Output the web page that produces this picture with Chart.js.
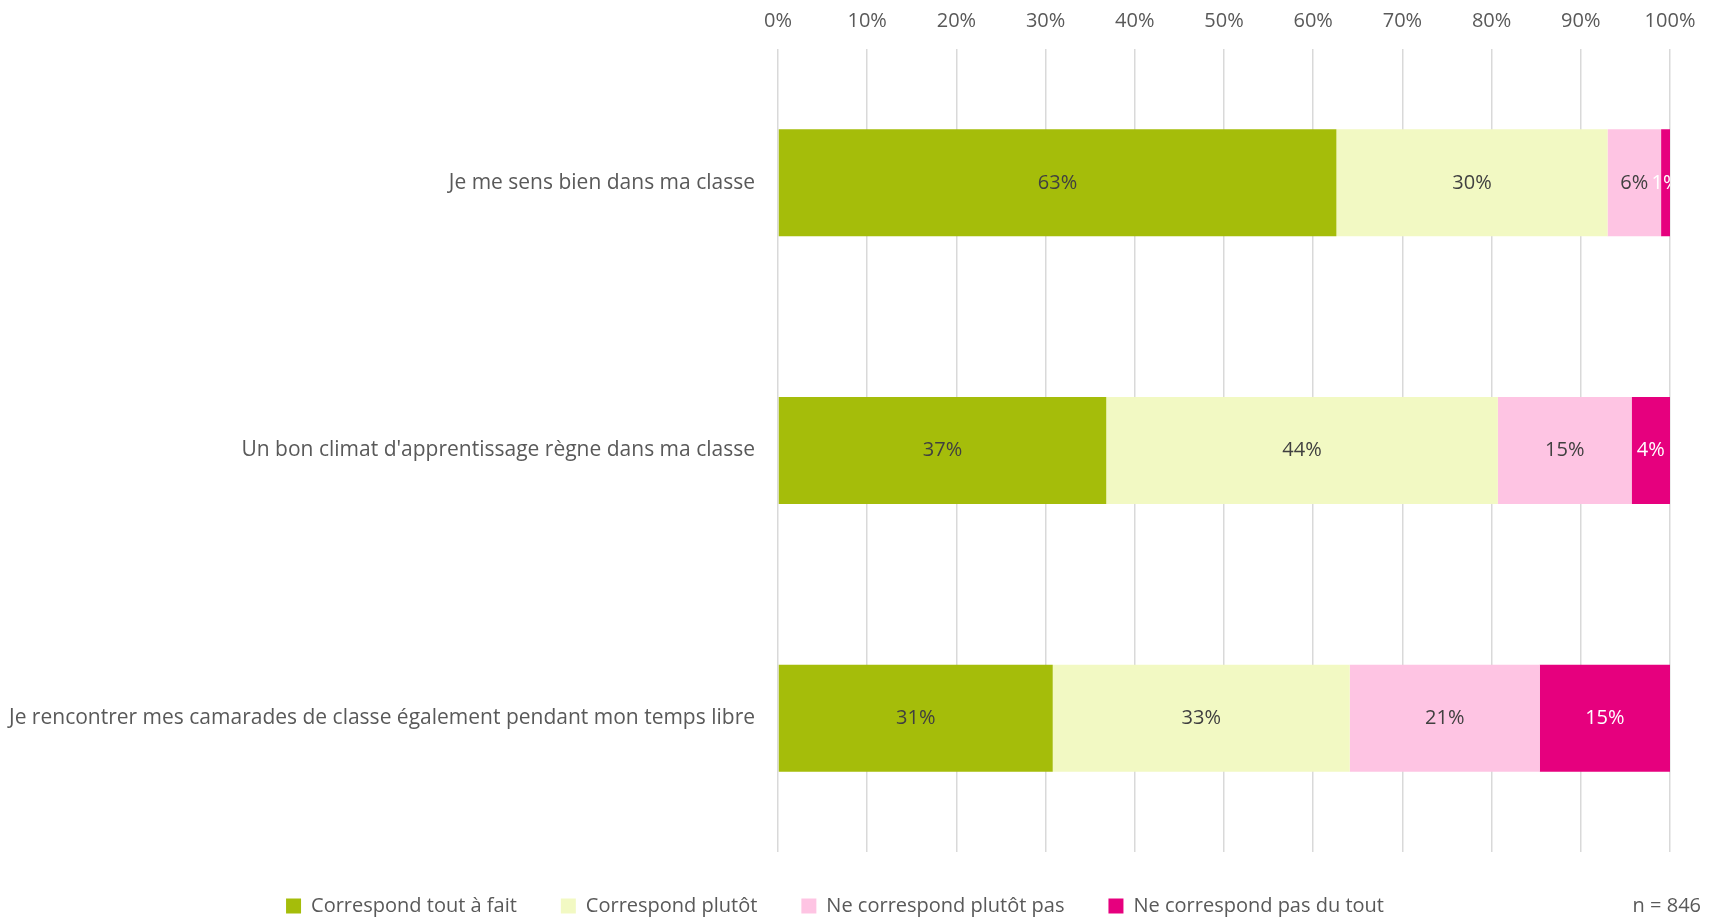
<!DOCTYPE html>
<html>
<head>
<meta charset="utf-8">
<script src="https://cdn.jsdelivr.net/npm/chart.js@4.4.1/dist/chart.umd.min.js"></script>
<style>
  html, body { margin: 0; padding: 0; background: #fff; overflow: hidden; }
</style>
</head>
<body>
<canvas id="barChart" width="1717" height="918"></canvas>
<script>
// categories and series (percent of respondents)
const categories = [
    'Je me sens bien dans ma classe',
    "Un bon climat d'apprentissage règne dans ma classe",
    'Je rencontrer mes camarades de classe également pendant mon temps libre'
];
const seriesNames = ['Correspond tout à fait', 'Correspond plutôt', 'Ne correspond plutôt pas', 'Ne correspond pas du tout'];
const toutAFait = [62.6, 36.8, 30.8];
const plutot = [30.4, 43.9, 33.3];
const plutotPas = [6.0, 15.0, 21.3];
const pasDuTout = [1.0, 4.3, 14.6];
const xTicks = [0, 10, 20, 30, 40, 50, 60, 70, 80, 90, 100];
const sampleNote = 'n = 846';

const colors = ['#A5BD0A', '#F2F9C3', '#FEC4E3', '#E6007E'];
const labelColors = ['#404040', '#404040', '#404040', '#FFFFFF'];
const fontFamily = "'Open Sans', 'Liberation Sans', sans-serif";

// draw the percentage in the middle of every segment
const segmentLabels = {
    id: 'segmentLabels',
    afterDatasetsDraw(chart) {
        const ctx = chart.ctx;
        const area = chart.chartArea;
        ctx.save();
        ctx.beginPath();
        ctx.rect(area.left, area.top, area.right - area.left, area.bottom - area.top);
        ctx.clip();
        ctx.font = '20px ' + fontFamily;
        ctx.textAlign = 'center';
        ctx.textBaseline = 'middle';
        chart.data.datasets.forEach((ds, i) => {
            const meta = chart.getDatasetMeta(i);
            meta.data.forEach((bar, j) => {
                const cx = (bar.x + bar.base) / 2;
                ctx.fillStyle = labelColors[i];
                ctx.fillText(Math.round(ds.data[j]) + '%', cx, bar.y);
            });
        });
        ctx.restore();
    }
};

// legend box is a bit too tall by default, trim it
const legendHeight = {
    id: 'legendHeight',
    beforeLayout(chart) {
        const legend = chart.legend;
        if (legend && !legend._trimmed) {
            const fit = legend.fit;
            legend.fit = function () { fit.call(this); this.height = 66; };
            legend._trimmed = true;
        }
    }
};

// sample size at the bottom right
const sampleSize = {
    id: 'sampleSize',
    afterDraw(chart) {
        const ctx = chart.ctx;
        const legend = chart.legend;
        ctx.save();
        ctx.font = '20px ' + fontFamily;
        ctx.fillStyle = '#595959';
        ctx.textAlign = 'right';
        ctx.textBaseline = 'middle';
        const box = legend.legendHitBoxes[0];
        const y = box ? box.top + box.height / 2 : chart.height - 15;
        ctx.fillText(sampleNote, chart.width - 16, y);
        ctx.restore();
    }
};

const ctx = document.getElementById('barChart').getContext('2d');
const barChart = new Chart(ctx, {
    type: 'bar',
    data: {
        labels: categories,
        datasets: [toutAFait, plutot, plutotPas, pasDuTout].map((values, i) => ({
            label: seriesNames[i],
            data: values,
            backgroundColor: colors[i],
            borderWidth: 0,
            barPercentage: 0.4,
            categoryPercentage: 1
        }))
    },
    options: {
        indexAxis: 'y',
        responsive: false,
        animation: false,
        layout: { padding: { left: 0, right: 47, top: 0, bottom: 0 } },
        scales: {
            x: {
                position: 'top',
                stacked: true,
                min: 0,
                max: 100,
                afterBuildTicks: (scale) => { scale.ticks = xTicks.map(v => ({ value: v })); },
                afterFit: (scale) => { scale.height = 49; },
                border: { display: false },
                grid: { color: '#D9D9D9', lineWidth: 1.5, drawTicks: false },
                ticks: {
                    padding: 16,
                    color: '#595959',
                    font: { family: fontFamily, size: 20 },
                    callback: (v) => v + '%'
                }
            },
            y: {
                stacked: true,
                afterFit: (scale) => { scale.width = 778; },
                border: { display: false },
                grid: { display: false },
                ticks: {
                    padding: 15,
                    color: '#595959',
                    font: { family: fontFamily, size: 21 }
                }
            }
        },
        plugins: {
            tooltip: { enabled: false },
            legend: {
                position: 'bottom',
                labels: {
                    color: '#595959',
                    font: { family: fontFamily, size: 20 },
                    boxWidth: 15,
                    boxHeight: 15,
                    padding: 44
                }
            }
        }
    },
    plugins: [legendHeight, segmentLabels, sampleSize]
});
</script>
</body>
</html>
